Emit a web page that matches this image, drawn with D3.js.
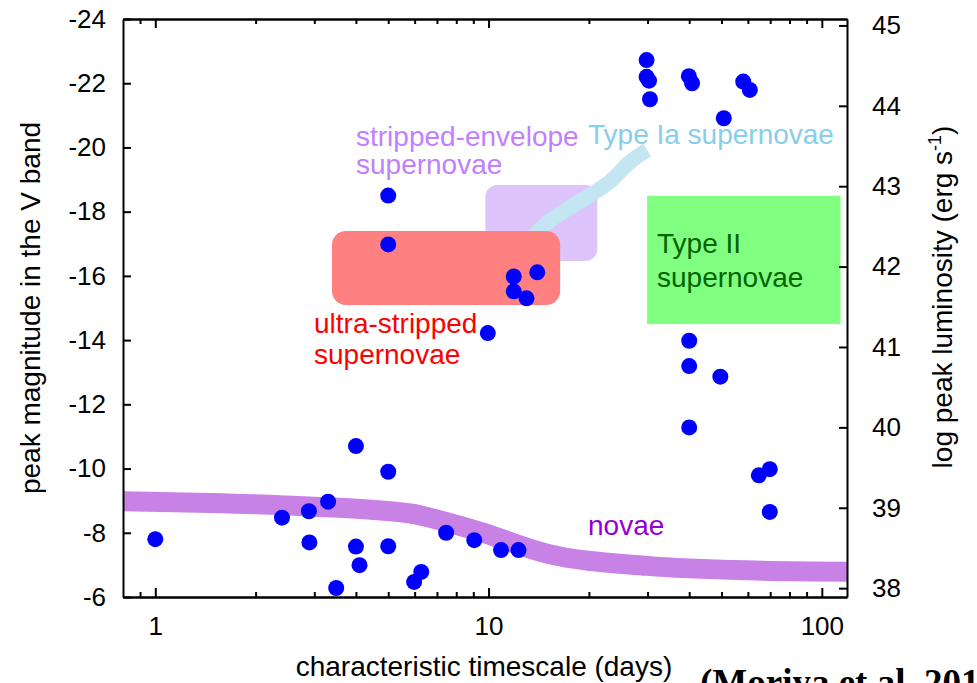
<!DOCTYPE html>
<html>
<head>
<meta charset="utf-8">
<script src="https://cdn.jsdelivr.net/npm/d3@7"></script>
<style>
  body { margin: 0; background: #fff; }
  svg text { font-family: "Liberation Sans", Arial, Helvetica, sans-serif; }
</style>
</head>
<body>
<div id="chart"></div>
<script>
// observed objects: characteristic timescale (days) and peak V magnitude
var timescale = [1.0, 2.4, 2.89, 2.9, 3.3, 3.49, 4.0, 4.0, 4.1, 5.0, 5.0, 5.0, 5.0, 5.98, 6.28, 7.46, 9.06, 9.95,
                 10.9, 12.3, 11.9, 11.9, 13.0, 14.0, 29.8, 29.8, 30.3, 30.5, 39.9, 40.8, 50.8, 58.1, 60.8,
                 40.0, 40.0, 49.6, 40.0, 64.7, 69.8, 69.8];
var magnitude = [-7.8, -8.47, -8.67, -7.7, -8.97, -6.28, -10.7, -7.57, -6.99, -9.9, -7.58, -18.5, -16.98, -6.47, -6.78, -8.0, -7.77, -14.22,
                 -7.46, -7.46, -15.98, -15.52, -15.3, -16.11, -22.72, -22.2, -22.08, -21.5, -22.22, -22.0, -20.91, -22.05, -21.79,
                 -13.98, -13.19, -12.86, -11.28, -9.79, -9.98, -8.65];

// novae track (centre line of the thick band)
var novaeTime = [0.8, 1.46, 2.91, 5.82, 7.31, 9.44, 14.98, 29.9, 59.7, 119];
var novaeMag  = [-8.98, -8.93, -8.82, -8.6, -8.36, -8.03, -7.35, -6.97, -6.83, -6.79];

// Type Ia track
var ia_time = [13.0, 15.1, 17.6, 20.2, 23.2, 26.6, 29.9];
var ia_mag  = [-17.0, -17.68, -18.14, -18.52, -18.95, -19.55, -19.92];

// boxes: [t0, t1, M_faint, M_bright]
var ultraBox    = [3.39, 16.4, -15.09, -17.4];
var strippedBox = [9.78, 21.2, -16.46, -18.83];
var typeIIBox   = [29.9, 113.8, -14.5, -18.49];

var xDomain = [0.8, 119];
var magDomain = [-6, -24];
var lumDomain = [37.89, 45.08];
var xMajor = [1, 10, 100];
var magTicks = [-24, -22, -20, -18, -16, -14, -12, -10, -8, -6];
var lumTicks = [38, 39, 40, 41, 42, 43, 44, 45];

var W = 977, H = 683;
var pL = 123, pR = 847, pT = 19, pB = 597;

var svg = d3.select("#chart").append("svg")
    .attr("width", W)
    .attr("height", H);

var x = d3.scaleLog().domain(xDomain).range([pL, pR]);
var y = d3.scaleLinear().domain(magDomain).range([pB, pT]);
var yL = d3.scaleLinear().domain(lumDomain).range([pB, pT]);

svg.append("clipPath").attr("id", "plotclip")
  .append("rect")
    .attr("x", pL).attr("y", pT)
    .attr("width", pR - pL).attr("height", pB - pT);

var plot = svg.append("g").attr("clip-path", "url(#plotclip)");

var line = d3.line()
    .x(function(d) { return x(d[0]); })
    .y(function(d) { return y(d[1]); })
    .curve(d3.curveMonotoneX);

// novae band
plot.append("path")
    .attr("d", line(d3.zip(novaeTime, novaeMag)))
    .attr("fill", "none")
    .attr("stroke", "#c882e6")
    .attr("stroke-width", 20);

function box(b, color, r) {
    plot.append("rect")
        .attr("x", x(b[0]))
        .attr("y", y(b[3]))
        .attr("width", x(b[1]) - x(b[0]))
        .attr("height", y(b[2]) - y(b[3]))
        .attr("rx", r).attr("ry", r)
        .attr("fill", color);
}

box(strippedBox, "#ddc4fa", 12);

plot.append("path")
    .attr("d", line(d3.zip(ia_time, ia_mag)))
    .attr("fill", "none")
    .attr("stroke", "#c3e6f2")
    .attr("stroke-width", 15);

box(ultraBox, "#ff8080", 14);
box(typeIIBox, "#80ff80", 0);

// labels
function label(lines, x0, y0, color, dyLine) {
    var t = svg.append("text")
        .attr("x", x0).attr("y", y0)
        .attr("fill", color)
        .style("font-size", "28px");
    lines.forEach(function(s, i) {
        t.append("tspan").attr("x", x0).attr("dy", i === 0 ? 0 : dyLine).text(s);
    });
}
label(["stripped-envelope", "supernovae"], 356, 146, "#c080ff", 28);
label(["Type Ia supernovae"], 588, 144, "#87ceeb", 0);
label(["ultra-stripped", "supernovae"], 314, 333, "#ff0000", 31);
label(["novae"], 588, 535, "#9400d3", 0);
label(["Type II", "supernovae"], 657, 253, "#006400", 34);

// points
svg.append("g")
  .selectAll("circle")
  .data(d3.zip(timescale, magnitude))
  .enter().append("circle")
    .attr("cx", function(d) { return x(d[0]); })
    .attr("cy", function(d) { return y(d[1]); })
    .attr("r", 8)
    .attr("fill", "#0000ff");

// axes
var xMinor = x.ticks().filter(function(t) { return t > xDomain[0] && xMajor.indexOf(t) < 0; });

function styleAxis(g) {
    g.selectAll("path.domain").attr("stroke", "#000").attr("stroke-width", 2);
    g.selectAll(".tick line").attr("stroke", "#000").attr("stroke-width", 2);
    g.selectAll("text").attr("fill", "#000").style("font-size", "26px").style("font-family", "Liberation Sans, Arial, sans-serif");
}

svg.append("g").attr("transform", "translate(0," + pB + ")")
    .call(d3.axisBottom(x).tickValues(xMajor).tickFormat(d3.format("d")).tickSizeInner(-9).tickSizeOuter(0).tickPadding(20))
    .call(styleAxis);
svg.append("g").attr("transform", "translate(0," + pB + ")")
    .call(d3.axisBottom(x).tickValues(xMinor).tickFormat("").tickSizeInner(-5).tickSizeOuter(0))
    .call(styleAxis);
svg.append("g").attr("transform", "translate(0," + pT + ")")
    .call(d3.axisTop(x).tickValues(xMajor).tickFormat("").tickSizeInner(-9).tickSizeOuter(0))
    .call(styleAxis);
svg.append("g").attr("transform", "translate(0," + pT + ")")
    .call(d3.axisTop(x).tickValues(xMinor).tickFormat("").tickSizeInner(-5).tickSizeOuter(0))
    .call(styleAxis);
svg.append("g").attr("transform", "translate(" + pL + ",0)")
    .call(d3.axisLeft(y).tickValues(magTicks).tickFormat(d3.format("d")).tickSizeInner(-8).tickSizeOuter(0).tickPadding(17))
    .call(styleAxis);
svg.append("g").attr("transform", "translate(" + pR + ",0)")
    .call(d3.axisRight(yL).tickValues(lumTicks).tickFormat(d3.format("d")).tickSizeInner(-8).tickSizeOuter(0).tickPadding(25))
    .call(styleAxis);

// minus signs as plain hyphen like the original
svg.selectAll(".tick text").text(function() { return this.textContent.replace("\u2212", "-"); });

// axis titles
svg.append("text")
    .attr("transform", "translate(40," + ((pT + pB) / 2) + ") rotate(-90)")
    .attr("text-anchor", "middle")
    .style("font-size", "28px")
    .text("peak magnitude in the V band");

var rt = svg.append("text")
    .attr("transform", "translate(952," + 297 + ") rotate(-90)")
    .attr("text-anchor", "middle")
    .style("font-size", "28px")
    .text("log peak luminosity (erg s");
rt.append("tspan").attr("dy", -11).style("font-size", "18px").text("-1");
rt.append("tspan").attr("dy", 11).text(")");

svg.append("text")
    .attr("x", 484).attr("y", 676)
    .attr("text-anchor", "middle")
    .style("font-size", "28px")
    .text("characteristic timescale (days)");

svg.append("text")
    .attr("x", 700).attr("y", 695)
    .style("font-family", "Liberation Serif, Times New Roman, serif")
    .style("font-weight", "bold")
    .style("font-size", "37px")
    .text("(Moriya et al. 201");
</script>
</body>
</html>
